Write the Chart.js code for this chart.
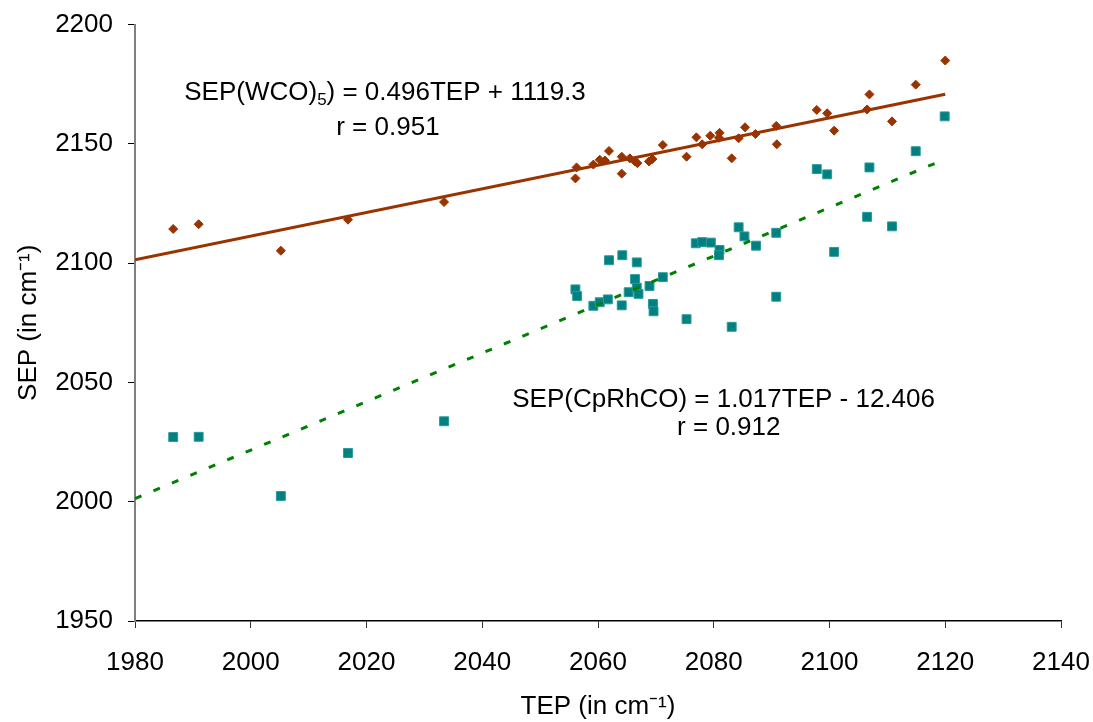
<!DOCTYPE html>
<html>
<head>
<meta charset="utf-8">
<script src="https://cdn.jsdelivr.net/npm/chart.js@4.4.1/dist/chart.umd.min.js"></script>
<style>
  html, body { margin: 0; padding: 0; background: #ffffff; }
  #wrap { width: 1093px; height: 722px; }
</style>
</head>
<body>
<div id="wrap"><canvas id="c" width="1093" height="722"></canvas></div>
<script>
// ---- Data ----
const wcoTEP = [1986.6, 1991.0, 2005.2, 2016.8, 2033.4,
  2056.3, 2056.1, 2059.2, 2060.3, 2061.2, 2061.9, 2064.1, 2064.1, 2065.5, 2066.4, 2066.8,
  2068.8, 2069.4, 2071.2, 2075.3, 2077.0, 2078.0, 2079.4, 2081.0, 2080.9, 2083.1, 2084.3,
  2085.4, 2087.2, 2090.8, 2090.9,
  2097.8, 2099.6, 2100.8, 2106.5, 2106.9, 2110.8, 2114.9, 2120.0];
const wcoSEP = [2114.3, 2116.3, 2105.2, 2118.2, 2125.6,
  2140.1, 2135.5, 2141.3, 2143.3, 2143.0, 2147.0, 2144.6, 2137.5, 2143.9, 2142.6, 2141.9,
  2142.6, 2143.6, 2149.5, 2144.6, 2152.7, 2149.8, 2153.4, 2154.6, 2152.5, 2143.9, 2152.3,
  2156.9, 2154.1, 2157.5, 2149.8,
  2164.2, 2162.8, 2155.5, 2164.4, 2170.7, 2159.4, 2174.8, 2184.9];

const cpTEP = [1986.6, 1991.0, 2005.2, 2016.8, 2033.4,
  2056.1, 2056.4, 2059.2, 2060.3, 2061.9, 2061.7, 2064.2, 2064.1, 2066.7, 2066.4, 2065.3,
  2066.7, 2067.0, 2068.9, 2069.5, 2069.6, 2071.2, 2075.3, 2076.9, 2078.0, 2079.5, 2081.0,
  2080.9, 2083.1, 2084.3, 2085.3, 2087.3, 2090.8, 2090.8,
  2097.8, 2099.6, 2100.8, 2106.5, 2106.9, 2110.8, 2114.9, 2119.9];
const cpSEP = [2027.1, 2027.2, 2002.4, 2020.4, 2033.7,
  2089.0, 2086.2, 2082.1, 2083.6, 2101.2, 2084.8, 2103.3, 2082.3, 2100.3, 2093.3, 2087.8,
  2089.7, 2087.1, 2090.4, 2082.9, 2079.8, 2094.1, 2076.5, 2108.3, 2108.8, 2108.6, 2105.5,
  2103.3, 2073.3, 2115.0, 2111.2, 2107.3, 2112.7, 2085.9,
  2139.4, 2137.2, 2104.7, 2119.4, 2140.1, 2115.4, 2146.9, 2161.5];

// trend line end points (as drawn in the reference)
const trendTEP = [1980, 2120];
const trendWCO = [2101.4, 2170.8];
const trendCp  = [2001.3, 2143.6];

// axis ticks
const xTicks = [1980, 2000, 2020, 2040, 2060, 2080, 2100, 2120, 2140];
const yTicks = [1950, 2000, 2050, 2100, 2150, 2200];

// equation labels: text parts, anchor TEP, anchor SEP (baseline)
const eqWCO   = [['SEP(WCO)', ''], ['5', 'sub'], [') = 0.496TEP + 1119.3', '']];
const eqWCOAt = [2023.2, 2168.4];
const rWCO    = 'r = 0.951';
const rWCOAt  = [2023.7, 2153.7];
const eqCp    = [['SEP(CpRhCO) = 1.017TEP - 12.406', '']];
const eqCpAt  = [2081.7, 2039.6];
const rCp     = 'r = 0.912';
const rCpAt   = [2082.6, 2028.0];

// target plot-area box in the 1093x722 picture
const AREA = { left: 135, top: 24.5, right: 1061, bottom: 621 };

const FONT = '"Liberation Sans", Arial, Helvetica, sans-serif';
const toXY = (xs, ys) => xs.map((x, i) => ({ x: x, y: ys[i] }));

const labelPlugin = {
  id: 'eqLabels',
  afterDatasetsDraw(chart) {
    const ctx = chart.ctx;
    const sx = chart.scales.x, sy = chart.scales.y;
    const drawRich = (parts, at) => {
      const px = sx.getPixelForValue(at[0]);
      const py = sy.getPixelForValue(at[1]);
      let total = 0;
      const widths = parts.map(p => {
        ctx.font = (p[1] === 'sub' ? '17px ' : '26px ') + FONT;
        const w = ctx.measureText(p[0]).width;
        total += w;
        return w;
      });
      let x = px - total / 2;
      ctx.save();
      ctx.fillStyle = '#000';
      ctx.textAlign = 'left';
      ctx.textBaseline = 'alphabetic';
      parts.forEach((p, i) => {
        ctx.font = (p[1] === 'sub' ? '17px ' : '26px ') + FONT;
        ctx.fillText(p[0], x, p[1] === 'sub' ? py + 5 : py);
        x += widths[i];
      });
      ctx.restore();
    };
    drawRich(eqWCO, eqWCOAt);
    drawRich([[rWCO, '']], rWCOAt);
    drawRich(eqCp, eqCpAt);
    drawRich([[rCp, '']], rCpAt);
  }
};

const pad = { left: 0, right: 1093 - AREA.right, top: AREA.top, bottom: 0 };

const chart = new Chart(document.getElementById('c'), {
  type: 'scatter',
  data: {
    datasets: [
      {
        label: 'WCO trend',
        type: 'line',
        data: toXY(trendTEP, trendWCO),
        borderColor: '#993300',
        borderWidth: 3,
        pointRadius: 0,
        fill: false
      },
      {
        label: 'CpRhCO trend',
        type: 'line',
        data: toXY(trendTEP, trendCp),
        borderColor: '#008000',
        borderWidth: 3,
        borderDash: [7, 13],
        pointRadius: 0,
        fill: false
      },
      {
        label: 'SEP(WCO)5',
        data: toXY(wcoTEP, wcoSEP),
        pointStyle: 'rectRot',
        pointRadius: 4.5,
        backgroundColor: '#993300',
        borderColor: '#993300',
        borderWidth: 1
      },
      {
        label: 'SEP(CpRhCO)',
        data: toXY(cpTEP, cpSEP),
        pointStyle: 'rect',
        pointRadius: 6.3,
        backgroundColor: '#008080',
        borderColor: '#2a9a9a',
        borderWidth: 1
      }
    ]
  },
  options: {
    responsive: false,
    devicePixelRatio: 1,
    animation: false,
    layout: { padding: pad },
    plugins: {
      legend: { display: false },
      tooltip: { enabled: false },
      title: { display: false }
    },
    scales: {
      x: {
        type: 'linear',
        min: xTicks[0],
        max: xTicks[xTicks.length - 1],
        afterBuildTicks: s => { s.ticks = xTicks.map(v => ({ value: v })); },
        afterFit: s => {
          s.height = 722 - AREA.bottom;
          s.paddingLeft = 0; s.paddingRight = 0; s.paddingTop = 0; s.paddingBottom = 0;
        },
        grid: { drawOnChartArea: false, drawTicks: true, tickLength: 7, color: '#333', lineWidth: 1 },
        border: { display: true, color: '#000', width: 1.5 },
        ticks: { color: '#000', padding: 19, font: { family: FONT, size: 26 }, maxRotation: 0,
                 callback: v => String(v) },
        title: {
          display: true,
          text: 'TEP (in cm\u207B\u00B9)',
          color: '#000',
          font: { family: FONT, size: 26 },
          padding: { top: 0, bottom: 0 }
        }
      },
      y: {
        type: 'linear',
        min: yTicks[0],
        max: yTicks[yTicks.length - 1],
        afterBuildTicks: s => { s.ticks = yTicks.map(v => ({ value: v })); },
        afterFit: s => {
          s.width = AREA.left;
          s.paddingLeft = 0; s.paddingRight = 0; s.paddingTop = 0; s.paddingBottom = 0;
        },
        grid: { drawOnChartArea: false, drawTicks: true, tickLength: 7, color: '#000', lineWidth: 1 },
        border: { display: true, color: '#808080', width: 2 },
        ticks: { color: '#000', padding: 15, font: { family: FONT, size: 26 },
                 callback: v => String(v) },
        title: {
          display: true,
          text: 'SEP (in cm\u207B\u00B9)',
          color: '#000',
          font: { family: FONT, size: 26 },
          padding: { top: 13, bottom: 0 }
        }
      }
    }
  },
  plugins: [labelPlugin]
});
</script>
</body>
</html>
